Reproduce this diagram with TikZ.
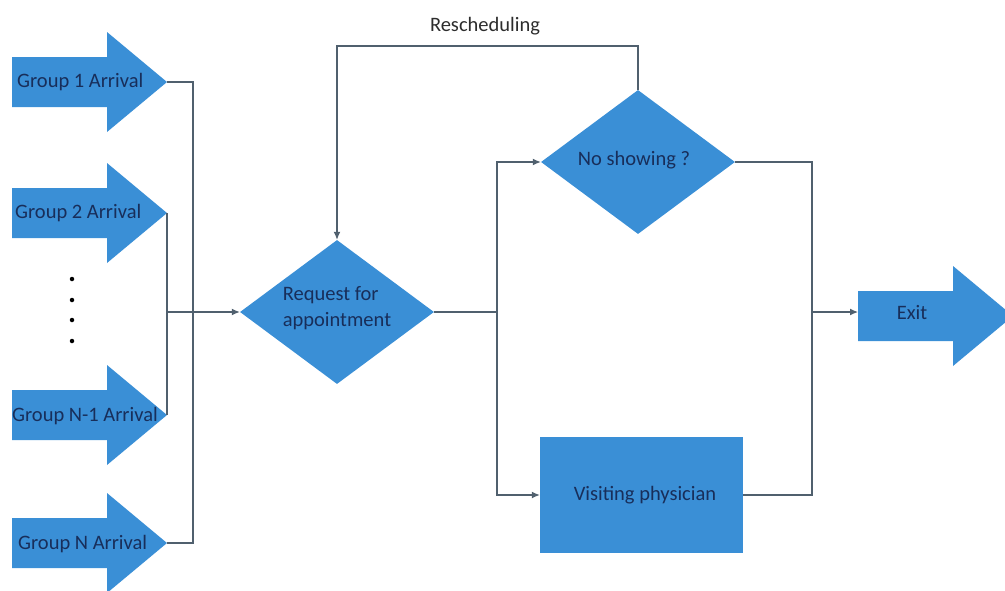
\documentclass[tikz,border=0pt]{standalone}
\usepackage{fontspec}
\setmainfont{Carlito}
\usetikzlibrary{shapes.geometric,arrows.meta}
\definecolor{boxblue}{RGB}{58,143,214}
\definecolor{txtblue}{RGB}{24,46,90}
\definecolor{linegray}{RGB}{80,96,110}
\definecolor{labgray}{RGB}{45,45,45}
\tikzset{
  shapefill/.style={fill=boxblue},
  lbl/.style={text=txtblue,font=\fontsize{20.5}{26}\selectfont,inner sep=0pt},
  decision/.style={diamond,shapefill,draw=none,inner sep=0pt,minimum width=194pt,minimum height=144pt,aspect=1.35},
  proc/.style={rectangle,shapefill,draw=none,minimum width=203pt,minimum height=116pt},
  conn/.style={draw=linegray,line width=1.2pt},
  arr/.style={conn,-{Latex[length=8pt,width=7pt]}},
}
\begin{document}
\begin{tikzpicture}[x=1pt,y=-1pt]
\useasboundingbox (0,0) rectangle (1005,590);
\clip (0,0) rectangle (1005,590);
% group arrows (body x 12..107, head to 167)
\foreach \yc/\nm in {82/g1,213/g2,415/gn1,543/gn}{
  \fill[boxblue] (12,\yc-25) -- (107,\yc-25) -- (107,\yc-50) -- (167,\yc) -- (107,\yc+50) -- (107,\yc+25) -- (12,\yc+25) -- cycle;
  \coordinate (\nm tip) at (167,\yc);
}
\node[lbl,anchor=west] (g1) at (17,82) {Group 1 Arrival};
\node[lbl,anchor=west] (g2) at (15,213) {Group 2 Arrival};
\node[lbl,anchor=west] (gn1) at (12,416) {Group N-1 Arrival};
\node[lbl,anchor=west] (gn) at (18,544) {Group N Arrival};
% dots
\foreach \yy [count=\i] in {279,300,320,341}{
  \node[circle,fill=black,inner sep=0pt,minimum size=4.5pt] (dot\i) at (72,\yy) {};
}
% exit arrow
\fill[boxblue] (858,291) -- (953,291) -- (953,266) -- (1013,316) -- (953,366) -- (953,341) -- (858,341) -- cycle;
\coordinate (exitin) at (858,312);
\node[lbl] (exit) at (912,313) {Exit};
% decisions and process
\node[decision] (req) at (337,312) {};
\node[lbl,align=left] (reqt) at (337,308) {Request for\\appointment};
\node[decision] (nos) at (638,162) {};
\node[lbl] (nost) at (634,160) {No showing ?};
\node[proc] (vis) at (641.5,495) {};
\node[lbl] (vist) at (645,495) {Visiting physician};
\node[text=labgray,font=\fontsize{20.5}{26}\selectfont,inner sep=0pt] (resch) at (485,26) {Rescheduling};
% junction coordinates
\coordinate (j2) at (167,312);
\coordinate (j3) at (497,312);
\coordinate (j4) at (812,312);
% connectors from groups
\draw[conn] (g1tip) -- (193,82) -- (193,543) -- (gntip);
\draw[conn] (g2tip) -- (gn1tip);
\draw[arr] (j2) -- (req.west);
% request to branches
\draw[conn] (req.east) -- (j3);
\draw[arr] (j3) |- (nos.west);
\draw[arr] (j3) |- (vis.west);
% to exit
\draw[conn] (nos.east) -| (j4);
\draw[conn] (vis.east) -| (j4);
\draw[arr] (j4) -- (exitin);
% rescheduling loop
\draw[arr] (nos.north) |- (337,46) -- (req.north);
\end{tikzpicture}
\end{document}
